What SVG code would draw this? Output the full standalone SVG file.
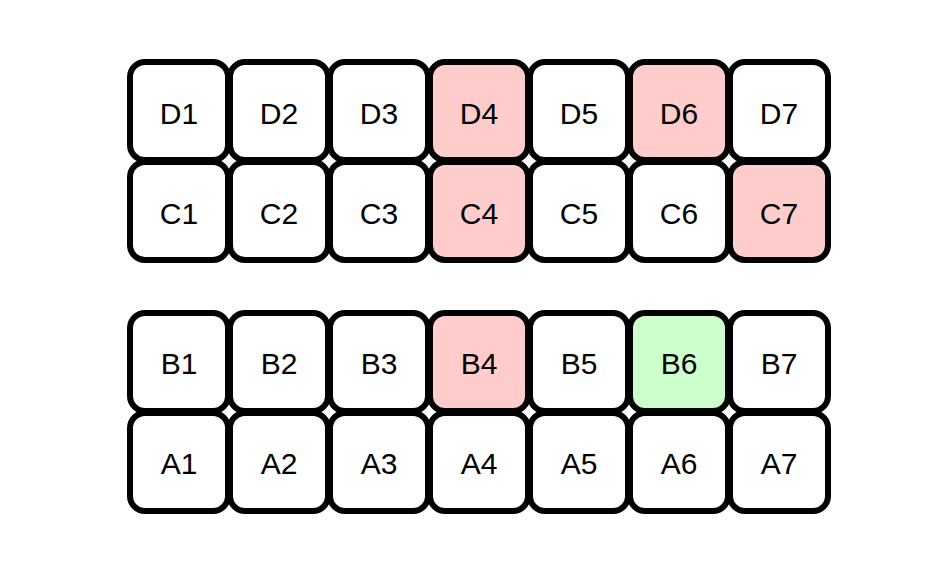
<svg xmlns="http://www.w3.org/2000/svg" width="935" height="563" viewBox="0 0 935 563">
<style>
.c rect{fill:#ffffff;stroke:#000000;stroke-width:6}
.c.r rect{fill:#ffcccc}
.c.g rect{fill:#ccffcc}
.c text{font-family:"Liberation Sans",Arial,sans-serif;font-size:30px;fill:#000000;text-anchor:middle}
</style>
<rect width="935" height="563" fill="#ffffff"/>
<g id="D1" class="c"><rect x="130" y="62" width="98" height="98" rx="15"/><text x="179" y="124">D1</text></g>
<g id="D2" class="c"><rect x="230" y="62" width="98" height="98" rx="15"/><text x="279" y="124">D2</text></g>
<g id="D3" class="c"><rect x="330" y="62" width="98" height="98" rx="15"/><text x="379" y="124">D3</text></g>
<g id="D4" class="c r"><rect x="430" y="62" width="98" height="98" rx="15"/><text x="479" y="124">D4</text></g>
<g id="D5" class="c"><rect x="530" y="62" width="98" height="98" rx="15"/><text x="579" y="124">D5</text></g>
<g id="D6" class="c r"><rect x="630" y="62" width="98" height="98" rx="15"/><text x="679" y="124">D6</text></g>
<g id="D7" class="c"><rect x="730" y="62" width="98" height="98" rx="15"/><text x="779" y="124">D7</text></g>
<g id="C1" class="c"><rect x="130" y="162" width="98" height="98" rx="15"/><text x="179" y="224">C1</text></g>
<g id="C2" class="c"><rect x="230" y="162" width="98" height="98" rx="15"/><text x="279" y="224">C2</text></g>
<g id="C3" class="c"><rect x="330" y="162" width="98" height="98" rx="15"/><text x="379" y="224">C3</text></g>
<g id="C4" class="c r"><rect x="430" y="162" width="98" height="98" rx="15"/><text x="479" y="224">C4</text></g>
<g id="C5" class="c"><rect x="530" y="162" width="98" height="98" rx="15"/><text x="579" y="224">C5</text></g>
<g id="C6" class="c"><rect x="630" y="162" width="98" height="98" rx="15"/><text x="679" y="224">C6</text></g>
<g id="C7" class="c r"><rect x="730" y="162" width="98" height="98" rx="15"/><text x="779" y="224">C7</text></g>
<g id="B1" class="c"><rect x="130" y="313" width="98" height="98" rx="15"/><text x="179" y="374">B1</text></g>
<g id="B2" class="c"><rect x="230" y="313" width="98" height="98" rx="15"/><text x="279" y="374">B2</text></g>
<g id="B3" class="c"><rect x="330" y="313" width="98" height="98" rx="15"/><text x="379" y="374">B3</text></g>
<g id="B4" class="c r"><rect x="430" y="313" width="98" height="98" rx="15"/><text x="479" y="374">B4</text></g>
<g id="B5" class="c"><rect x="530" y="313" width="98" height="98" rx="15"/><text x="579" y="374">B5</text></g>
<g id="B6" class="c g"><rect x="630" y="313" width="98" height="98" rx="15"/><text x="679" y="374">B6</text></g>
<g id="B7" class="c"><rect x="730" y="313" width="98" height="98" rx="15"/><text x="779" y="374">B7</text></g>
<g id="A1" class="c"><rect x="130" y="413" width="98" height="98" rx="15"/><text x="179" y="474">A1</text></g>
<g id="A2" class="c"><rect x="230" y="413" width="98" height="98" rx="15"/><text x="279" y="474">A2</text></g>
<g id="A3" class="c"><rect x="330" y="413" width="98" height="98" rx="15"/><text x="379" y="474">A3</text></g>
<g id="A4" class="c"><rect x="430" y="413" width="98" height="98" rx="15"/><text x="479" y="474">A4</text></g>
<g id="A5" class="c"><rect x="530" y="413" width="98" height="98" rx="15"/><text x="579" y="474">A5</text></g>
<g id="A6" class="c"><rect x="630" y="413" width="98" height="98" rx="15"/><text x="679" y="474">A6</text></g>
<g id="A7" class="c"><rect x="730" y="413" width="98" height="98" rx="15"/><text x="779" y="474">A7</text></g>
<g id="connectors"></g>
</svg>
